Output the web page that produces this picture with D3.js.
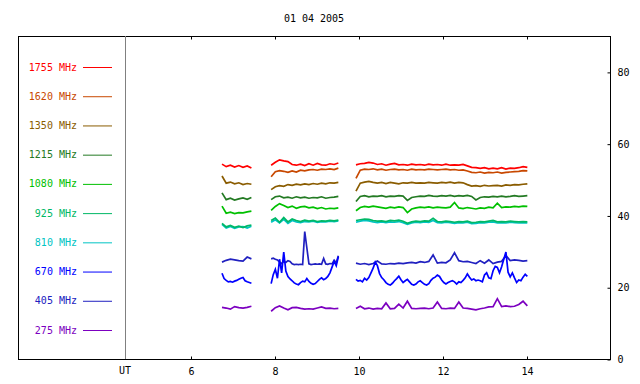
<!DOCTYPE html>
<html>
<head>
<meta charset="utf-8">
<script src="https://cdn.jsdelivr.net/npm/d3@7"></script>
<style>
  html, body { margin: 0; padding: 0; background: #fff; }
  svg { display: block; font-family: "DejaVu Sans Mono", monospace; font-size: 10px; }
</style>
</head>
<body>
<div id="chart"></div>
<script>
// Radio flux per frequency, 01 04 2005. Three observing blocks (UT hours).
const TITLE = "01 04 2005";
const SEG_START = [6.75, 7.92, 9.94];
const SEG_END = [7.45, 9.52, 14.02];

const FREQS = ["1755", "1620", "1350", "1215", "1080", "925", "810", "670", "405", "275"];
const COLORS = ["#ff0000", "#c84800", "#8a5c00", "#237a23", "#00c000", "#00b866", "#00c4c4", "#0000ff", "#2020c0", "#7c00c0"];

const X_TICKS = [6, 8, 10, 12, 14];
const Y_TICKS = [0, 20, 40, 60, 80];

// one entry per block, null where nothing was recorded
const v1755 = [
  [54.3, 53.6, 54.0, 53.5, 53.9, 53.4, 53.8, 53.2],
  [54.0, 54.8, 55.5, 55.2, 55.0, 54.2, 54.0, 54.3, 53.9, 54.4, 54.0, 54.5, 54.1, 54.0, 54.4, 54.2, 54.6],
  [54.1, 54.4, 54.5, 54.8, 54.6, 54.2, 54.4, 54.0, 54.3, 54.5, 54.1, 54.2, 54.0, 54.3, 54.1, 54.2, 54.0, 54.3, 54.1, 54.2,
   54.0, 54.3, 54.0, 54.1, 54.0, 54.2, 53.8, 53.4, 53.3, 53.1, 53.3, 53.0, 53.2, 53.0, 53.3, 52.9, 53.2, 53.1, 53.3, 53.6, 53.4]
];
const v1620 = [
  null,
  [50.8, 52.2, 52.5, 52.3, 52.0, 52.4, 52.1, 52.6, 52.4, 52.7, 52.8, 52.6, 52.9, 52.8, 53.0, 52.8, 53.2],
  [50.3, 52.6, 52.9, 52.8, 53.0, 52.7, 52.9, 52.6, 52.8, 52.9, 52.7, 52.8, 52.6, 52.9, 52.7, 52.8, 52.7, 52.9, 52.8, 52.7,
   52.8, 52.9, 52.7, 52.8, 52.6, 52.7, 52.4, 52.0, 51.9, 52.1, 51.8, 52.0, 51.9, 52.1, 51.8, 52.0, 52.1, 52.2, 52.3, 52.5, 52.4]
];
const v1350 = [
  [51.0, 49.0, 49.3, 48.8, 49.1, 48.6, 48.9, 48.7],
  [47.2, 48.0, 48.3, 48.1, 48.6, 48.4, 48.7, 48.5, 48.8, 48.6, 48.9, 48.7, 49.0, 48.8, 49.1, 49.0, 49.2],
  [46.8, 49.0, 49.3, 49.5, 49.2, 49.0, 49.2, 48.9, 49.2, 49.0, 48.8, 49.1, 49.0, 49.2, 49.0, 49.1, 49.0, 49.2, 49.1, 49.0,
   49.2, 49.1, 49.3, 49.0, 49.2, 49.1, 48.6, 48.2, 48.3, 48.1, 48.4, 48.2, 48.3, 48.4, 48.2, 48.5, 48.4, 48.6, 48.5, 48.7, 48.8]
];
const v1215 = [
  [46.3, 44.4, 44.8, 44.3, 44.6, 44.9, 44.5, 45.0],
  [44.4, 45.2, 45.4, 44.9, 45.1, 44.8, 45.2, 44.9, 45.1, 44.8, 45.0, 44.9, 45.2, 44.8, 45.0, 45.1, 45.3],
  [43.9, 45.3, 45.5, 45.2, 45.4, 45.3, 45.5, 45.2, 45.4, 45.3, 45.5, 45.4, 44.2, 45.0, 45.2, 45.4, 45.3, 45.6, 45.4, 45.3,
   45.5, 45.4, 45.6, 45.3, 45.5, 45.4, 45.6, 45.3, 44.3, 45.0, 45.2, 45.1, 45.3, 45.2, 45.4, 45.2, 45.3, 45.5, 45.3, 45.4, 45.5]
];
const v1080 = [
  [42.6, 40.6, 40.9, 40.5, 40.8, 40.7, 41.0, 41.2],
  [41.4, 42.5, 43.3, 42.8, 42.2, 42.6, 42.0, 42.4, 42.5, 42.1, 42.3, 41.9, 42.2, 41.8, 42.0, 41.9, 42.1],
  [41.3, 42.2, 42.5, 42.3, 42.6, 42.4, 42.2, 42.0, 42.3, 42.1, 42.4, 42.2, 40.8, 41.8, 42.1, 42.3, 42.2, 42.4, 42.1, 42.3,
   42.2, 42.1, 42.3, 43.6, 42.1, 41.9, 42.2, 42.0, 41.8, 42.1, 42.0, 42.3, 42.1, 43.4, 42.2, 42.4, 42.3, 42.5, 42.4, 42.6, 42.5]
];
const v925 = [
  [37.8, 36.8, 37.2, 36.7, 37.0, 36.6, 37.1, 37.3],
  [38.6, 39.3, 38.1, 39.4, 38.2, 39.0, 38.6, 38.3, 38.7, 38.4, 38.6, 38.3, 38.5, 38.4, 38.6, 38.5, 38.7],
  [38.6, 38.8, 39.0, 38.9, 38.6, 38.4, 38.5, 38.3, 38.6, 38.5, 38.7, 38.4, 37.8, 38.2, 38.4, 38.3, 38.5, 38.4, 39.2, 38.3,
   38.2, 38.4, 38.3, 38.1, 38.3, 38.2, 38.4, 38.0, 38.1, 38.3, 38.2, 38.4, 38.6, 38.2, 38.3, 38.2, 38.4, 38.3, 38.2, 38.3, 38.2]
];
const v810 = [
  [37.5, 36.5, 36.9, 36.4, 36.8, 36.9, 36.5, 37.0],
  [38.1, 38.8, 37.9, 38.9, 37.8, 38.6, 38.2, 38.0, 38.3, 38.2, 38.4, 38.1, 38.3, 38.2, 38.4, 38.3, 38.5],
  [38.1, 38.4, 38.6, 38.5, 38.2, 38.0, 38.2, 38.0, 38.2, 38.1, 38.3, 38.0, 37.5, 37.9, 38.1, 38.0, 38.2, 38.1, 38.6, 38.0,
   37.9, 38.1, 38.0, 37.8, 38.0, 37.9, 38.1, 37.7, 37.8, 38.0, 37.9, 38.1, 38.2, 37.9, 38.0, 37.9, 38.1, 38.0, 37.9, 38.0, 37.9]
];
const v670 = [
  [23.9, 22.4, 21.9, 21.5, 21.6, 21.4, 21.7, 21.9, 22.2, 22.5, 22.7, 21.8, 21.5, 21.3, 21.1],
  [21.0, 23.5, 25.0, 22.5, 27.8, 24.0, 29.8, 24.5, 23.0, 22.3, 21.8, 21.2, 20.9, 20.7, 21.3, 21.7, 21.5, 22.4, 21.6, 21.1,
   20.8, 21.0, 21.6, 22.2, 22.6, 22.1, 22.4, 23.0, 24.0, 25.6, 27.2, 26.0, 28.5],
  [22.2, 21.7, 21.9, 21.5, 22.5, 22.0, 22.7, 24.0, 25.3, 27.0, 26.0, 23.8, 22.7, 22.1, 21.3, 20.8, 20.6, 21.1, 21.8, 22.4,
   23.1, 22.1, 21.3, 21.8, 22.2, 21.5, 20.8, 20.6, 20.9, 21.5, 21.8, 21.3, 20.8, 20.6, 21.0, 21.9, 22.5, 22.8, 23.4, 23.0,
   22.0, 21.3, 20.9, 21.3, 21.6, 21.8, 21.5, 20.9, 21.5, 21.3, 21.9, 22.6, 23.7, 22.8, 22.0, 22.3, 21.8, 22.0, 21.8, 21.5,
   23.4, 24.0, 22.6, 22.4, 24.6, 25.8, 25.5, 24.0, 25.7, 27.8, 29.8, 24.2, 22.9, 24.0, 22.6, 21.3, 22.0, 21.8, 22.8, 23.6, 23.0]
];
const v405 = [
  [27.0, 27.5, 27.8, 27.6, 27.4, 27.3, 28.4, 27.9],
  [27.9, 28.1, 27.8, 27.6, 27.0, 26.6, 27.2, 26.9, 27.4, 27.2, 26.5, 26.3, 26.4, 26.3, 26.4, 26.3, 35.5, 31.0, 26.5, 26.3,
   26.4, 26.5, 26.4, 26.5, 26.4, 28.0, 26.5, 26.4, 26.6, 26.5, 27.5, 26.8, 28.8],
  [26.7, 26.4, 26.6, 26.3, 26.6, 27.3, 26.5, 26.4, 26.6, 26.5, 26.7, 26.6, 26.8, 26.9, 26.7, 27.1, 26.9, 27.2, 29.0, 26.7,
   26.9, 26.8, 27.6, 29.6, 27.4, 27.1, 27.2, 26.9, 26.6, 27.4, 26.7, 27.6, 26.6, 27.0, 27.2, 28.8, 27.4, 27.6, 27.5, 27.3, 27.4]
];
const v275 = [
  [14.4, 14.2, 13.9, 14.6, 14.3, 14.2, 14.4, 14.7],
  [13.3, 14.3, 14.8, 14.2, 13.7, 14.3, 14.4, 14.1, 13.9, 14.0, 13.9, 14.2, 14.5, 14.1, 14.2, 14.0, 14.1],
  [14.1, 14.7, 14.0, 14.2, 13.9, 14.1, 14.0, 15.6, 14.0, 14.1, 15.3, 14.2, 16.1, 14.1, 14.0, 14.1, 14.2, 14.0, 14.2, 15.9,
   14.1, 14.0, 14.2, 14.1, 15.9, 14.2, 14.1, 13.9, 13.7, 14.0, 14.2, 14.5, 14.6, 16.8, 14.6, 14.8, 14.6, 14.7, 15.2, 16.1, 14.8]
];

const SERIES = [v1755, v1620, v1350, v1215, v1080, v925, v810, v670, v405, v275];

const W = 640, H = 384;
const frame = { left: 18, right: 610, top: 36, bottom: 359 };
const legendEdge = 125;

const svg = d3.select("#chart").append("svg").attr("width", W).attr("height", H);

const x = d3.scaleLinear().domain([6, 14]).range([190.5, 526.5]);
const y = d3.scaleLinear().domain([0, 90]).range([frame.bottom, frame.top]);

svg.append("text")
  .attr("x", 314).attr("y", 22)
  .attr("text-anchor", "middle")
  .text(TITLE);

// frame
svg.append("rect")
  .attr("x", frame.left + 0.5).attr("y", frame.top + 0.5)
  .attr("width", frame.right - frame.left).attr("height", frame.bottom - frame.top)
  .attr("fill", "none").attr("stroke", "#000");

svg.append("line")
  .attr("x1", legendEdge + 0.5).attr("x2", legendEdge + 0.5)
  .attr("y1", frame.top).attr("y2", frame.bottom)
  .attr("stroke", "#808080");

// axes: ticks point inward on top and bottom, right axis labels outside
const axBottom = svg.append("g")
  .attr("transform", `translate(0.5,${frame.bottom + 0.5})`)
  .call(d3.axisBottom(x).tickValues(X_TICKS).tickSize(-3).tickPadding(8));
const axTop = svg.append("g")
  .attr("transform", `translate(0.5,${frame.top + 0.5})`)
  .call(d3.axisTop(x).tickValues(X_TICKS).tickSize(-3).tickFormat(""));
const axRight = svg.append("g")
  .attr("transform", `translate(${frame.right + 0.5},0.5)`)
  .call(d3.axisRight(y).tickValues(Y_TICKS).tickSize(-3).tickPadding(7));

[axBottom, axTop, axRight].forEach((g) => {
  g.select(".domain").remove();
  g.selectAll("text").attr("font-family", "DejaVu Sans Mono, monospace").attr("font-size", 10).attr("fill", "#000");
});

svg.append("text")
  .attr("x", legendEdge).attr("y", 374)
  .attr("text-anchor", "middle")
  .text("UT");

// legend
const ly = d3.scalePoint().domain(FREQS).range([67, 330]);
const legend = svg.append("g").selectAll("g").data(FREQS).join("g")
  .attr("transform", (d) => `translate(0,${ly(d)})`);
legend.append("text")
  .attr("x", 77).attr("y", 0).attr("dy", "0.35em")
  .attr("text-anchor", "end")
  .attr("fill", (d, i) => COLORS[i])
  .text((d) => `${d} MHz`);
legend.append("line")
  .attr("x1", 83).attr("x2", 112).attr("y1", 0.5).attr("y2", 0.5)
  .attr("stroke", (d, i) => COLORS[i]);

// traces, lowest frequency first so the upper ones sit on top
const line = d3.line().x((d) => x(d[0])).y((d) => y(d[1]));
const traces = svg.append("g");
for (let k = SERIES.length - 1; k >= 0; k--) {
  SERIES[k].forEach((vals, s) => {
    if (!vals) return;
    const t0 = SEG_START[s], t1 = SEG_END[s];
    const pts = vals.map((v, i) => [t0 + (i * (t1 - t0)) / (vals.length - 1), v]);
    traces.append("path")
      .datum(pts)
      .attr("d", line)
      .attr("fill", "none")
      .attr("stroke", COLORS[k])
      .attr("stroke-width", 1.7)
      .attr("stroke-linejoin", "miter");
  });
}
</script>
</body>
</html>
